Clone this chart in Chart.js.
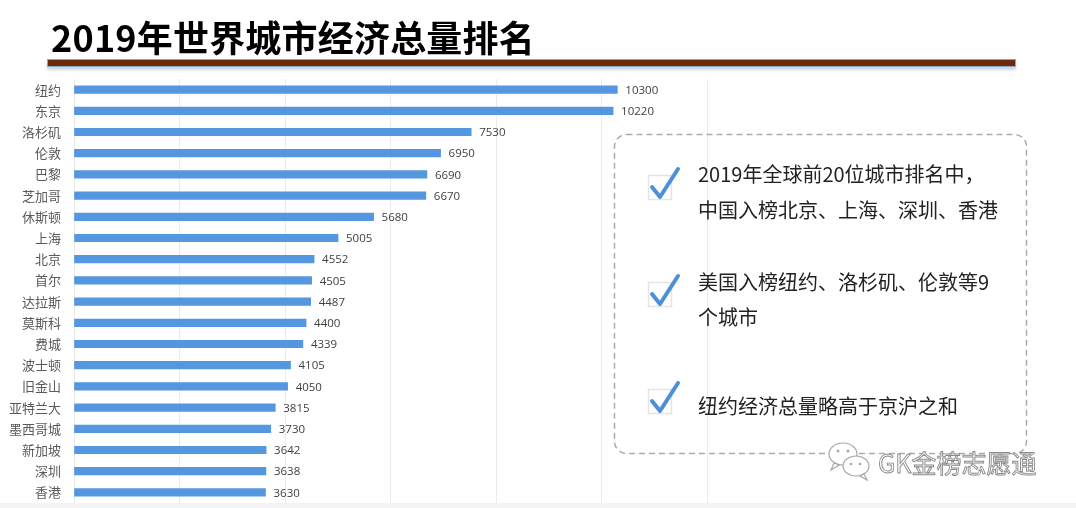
<!DOCTYPE html>
<html>
<head>
<meta charset="utf-8">
<script src="https://cdn.jsdelivr.net/npm/chart.js@4.4.1/dist/chart.umd.min.js"></script>
<style>
  html, body { margin: 0; padding: 0; background: #ffffff; }
  body { width: 1076px; height: 508px; position: relative; overflow: hidden; font-family: "Noto Sans CJK SC", sans-serif; }
  #wrap { position: absolute; left: 0; top: 0; width: 1076px; height: 508px; }
  #title { position: absolute; left: 51px; top: 18px; font-size: 36px; line-height: 36px; font-weight: 700; color: #000; white-space: nowrap; letter-spacing: 0.2px; }
  #rule { position: absolute; left: 47px; top: 59px; width: 967px; height: 6px; background: #6b2a0c; border: 1px solid #8ea7c6; box-shadow: 0 3px 3px rgba(150,160,190,0.45); }
  .note { position: absolute; left: 698px; font-size: 20px; line-height: 20px; color: #222; white-space: nowrap; }
  #wm { position: absolute; left: 878px; top: 449px; font-size: 25px; line-height: 26px; color: #ffffff; -webkit-text-stroke: 0.9px #8a8a8a; font-family: "Noto Sans CJK SC", sans-serif; white-space: nowrap; }
  #strip { position: absolute; left: 0; top: 503px; width: 1076px; height: 5px; background: #f3f3f3; }
  svg { position: absolute; left: 0; top: 0; }
</style>
</head>
<body>
<div id="wrap"><canvas id="c" width="1076" height="508"></canvas></div>
<div id="title">2019年世界城市经济总量排名</div>
<div id="rule"></div>
<svg width="1076" height="508">
  <rect x="614.5" y="134.5" width="412" height="319" rx="12" ry="12" fill="none" stroke="#ababab" stroke-width="1.5" stroke-dasharray="6 4"/>
  <g fill="none">
    <rect x="648.5" y="175.5" width="23" height="24" stroke="#e4e4e4" stroke-width="1.5"/>
    <polyline points="652,187 660,197 678,169" stroke="#4d8fd8" stroke-width="4" stroke-linecap="round" stroke-linejoin="round"/>
    <rect x="648.5" y="282.5" width="23" height="24" stroke="#e4e4e4" stroke-width="1.5"/>
    <polyline points="652,294 660,304 678,276" stroke="#4d8fd8" stroke-width="4" stroke-linecap="round" stroke-linejoin="round"/>
    <rect x="648.5" y="389.5" width="23" height="24" stroke="#e4e4e4" stroke-width="1.5"/>
    <polyline points="652,401 660,411 678,383" stroke="#4d8fd8" stroke-width="4" stroke-linecap="round" stroke-linejoin="round"/>
  </g>
  <g fill="#ffffff" stroke="#a8a8a8" stroke-width="1.2">
    <ellipse cx="843" cy="454" rx="14" ry="11"/>
    <path d="M834 463 L831 470 L839 465 Z"/>
    <ellipse cx="856" cy="466" rx="13" ry="10"/>
    <path d="M864 474 L867 480 L860 476 Z"/>
  </g>
  <g fill="#a8a8a8">
    <circle cx="838" cy="451" r="1.5"/><circle cx="848" cy="451" r="1.5"/>
    <circle cx="851" cy="464" r="1.3"/><circle cx="860" cy="464" r="1.3"/>
  </g>
</svg>
<div class="note" style="top:164px;">2019年全球前20位城市排名中，</div>
<div class="note" style="top:200px;">中国入榜北京、上海、深圳、香港</div>
<div class="note" style="top:272px;">美国入榜纽约、洛杉矶、伦敦等9</div>
<div class="note" style="top:307px;">个城市</div>
<div class="note" style="top:396px;">纽约经济总量略高于京沪之和</div>
<div id="wm">GK金榜志愿通</div>
<div id="strip"></div>
<script>
const cities = ["纽约","东京","洛杉矶","伦敦","巴黎","芝加哥","休斯顿","上海","北京","首尔","达拉斯","莫斯科","费城","波士顿","旧金山","亚特兰大","墨西哥城","新加坡","深圳","香港"];
const gdpValues = [10300,10220,7530,6950,6690,6670,5680,5005,4552,4505,4487,4400,4339,4105,4050,3815,3730,3642,3638,3630];
const xAxisMin = 0;
const xAxisMax = 12000;
const xAxisStep = 2000;

const valueLabels = {
  id: 'valueLabels',
  afterDatasetsDraw(chart) {
    const ctx = chart.ctx;
    const meta = chart.getDatasetMeta(0);
    ctx.save();
    ctx.font = '11.5px "Open Sans", sans-serif';
    ctx.fillStyle = '#404040';
    ctx.textAlign = 'left';
    ctx.textBaseline = 'middle';
    meta.data.forEach((bar, i) => {
      ctx.fillText(String(chart.data.datasets[0].data[i]), bar.x + 8, bar.y + 1);
    });
    ctx.restore();
  }
};

new Chart(document.getElementById('c'), {
  type: 'bar',
  data: {
    labels: cities,
    datasets: [{
      data: gdpValues,
      backgroundColor: '#5597de',
      borderWidth: 0,
      barThickness: 7.5
    }]
  },
  options: {
    indexAxis: 'y',
    responsive: false,
    animation: false,
    devicePixelRatio: 1,
    layout: { padding: { left: 0, right: 369, top: 79, bottom: 5 } },
    plugins: { legend: { display: false }, tooltip: { enabled: false } },
    scales: {
      x: {
        min: xAxisMin, max: xAxisMax,
        ticks: { display: false, stepSize: xAxisStep },
        grid: { color: '#ebebeb', drawTicks: false, lineWidth: 1 },
        border: { display: false },
        afterFit(scale) { scale.height = 0; }
      },
      y: {
        ticks: { color: '#5a5a5a', padding: 5, font: { size: 13, family: '"Noto Sans CJK SC", sans-serif' } },
        grid: { display: false },
        border: { display: false },
        afterFit(scale) { scale.width = 74; scale.paddingTop = 0; scale.paddingBottom = 0; }
      }
    }
  },
  plugins: [valueLabels]
});
</script>
</body>
</html>
